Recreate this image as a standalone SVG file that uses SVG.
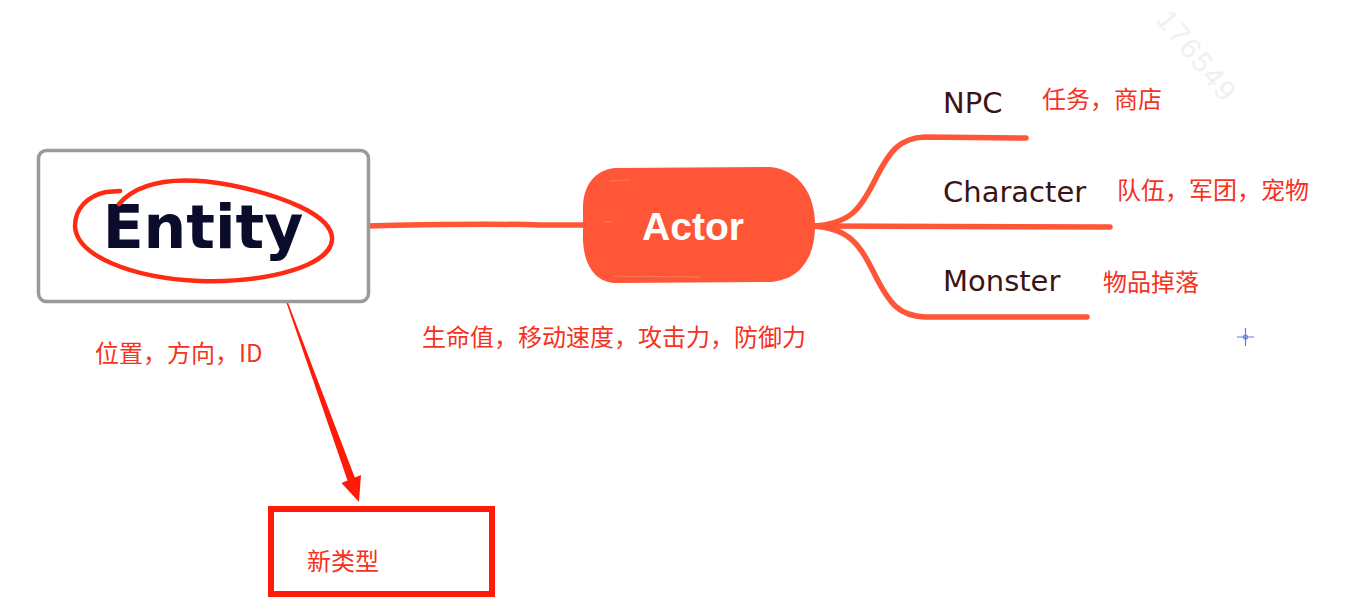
<svg xmlns="http://www.w3.org/2000/svg" width="1361" height="615" viewBox="0 0 1361 615">
<style>
.br{fill:none;stroke:#ff5638;stroke-width:5.5;stroke-linecap:round;stroke-linejoin:round}
.lbl{font-family:"Noto Sans CJK SC","Noto Sans",sans-serif;font-size:24px;fill:#f5321e}
.sub{font-family:"DejaVu Sans",sans-serif;font-size:29px;fill:#3b1414}
</style>
<rect width="1361" height="615" fill="#ffffff"/>
<text x="1155" y="20" transform="rotate(51 1155 20)" font-family="Liberation Sans, sans-serif" font-size="29" letter-spacing="2" fill="#f0f0f0">176549</text>
<g id="connectors">
<path class="br" d="M363 226 C420 225 480 223 540 225 L592 225"/>
<path class="br" d="M812 226 C850 224 860 210 875 180 C890 150 900 138 925 137 L1026 138"/>
<path class="br" d="M812 226 L1110 227"/>
<path class="br" d="M812 226 C850 228 860 245 875 275 C890 305 900 316 925 317 L1087 317"/>
<path id="arrow" fill="#ff1a0a" d="M285.5 300 L287 300 L354.8 477.5 L361 475 L359 502 L341.5 483 L347.5 480.5 Z"/>
</g>
<g id="node-entity">
<rect x="38.5" y="150.5" width="330" height="151" rx="8" fill="#ffffff" stroke="#9a9a9a" stroke-width="3.5"/>
<text x="203" y="248" text-anchor="middle" font-family="DejaVu Sans, sans-serif" font-weight="bold" font-size="60" letter-spacing="0" fill="#0b0b2c">Entity</text>
<path d="M120 191 L106 192 C88 196 75 208 75 226 C76 255 130 278 200 281 C270 283 330 265 332 240 C334 215 280 195 230 185 C180 176 140 180 119 204" fill="none" stroke="#ff2a12" stroke-width="4.5" stroke-linecap="round"/>
</g>
<g id="node-actor">
<path d="M615 168 L770 167 C800 170 815 195 815 225 C815 258 800 280 770 282 L615 283 C595 282 584 265 583 240 L583 205 C584 185 595 170 615 168 Z" fill="#ff5638"/>
<path d="M610 181 L630 180 M604 222 L612 222 M612 276 L700 277" stroke="#ff8a70" stroke-width="1.2" stroke-linecap="round" opacity="0.7"/>
<text x="693" y="240" text-anchor="middle" font-family="Liberation Sans, sans-serif" font-weight="bold" font-size="39" fill="#ffffff">Actor</text>
</g>
<g id="node-npc"><text class="sub" x="943" y="113">NPC</text></g>
<g id="node-character"><text class="sub" x="943" y="202">Character</text></g>
<g id="node-monster"><text class="sub" x="943" y="291">Monster</text></g>
<g id="labels">
<text class="lbl" x="1042" y="108">任务，商店</text>
<text class="lbl" x="1117" y="199">队伍，军团，宠物</text>
<text class="lbl" x="1103" y="291">物品掉落</text>
<text class="lbl" x="95" y="362">位置，方向，ID</text>
<text class="lbl" x="422" y="346">生命值，移动速度，攻击力，防御力</text>
</g>
<g id="node-newtype">
<rect x="271" y="509" width="221" height="85" fill="none" stroke="#ff1a0a" stroke-width="6"/>
<text class="lbl" x="307" y="570">新类型</text>
</g>
<g id="cursor" stroke="#5b7fe0" stroke-width="1.2" fill="none">
<path d="M1237 337 H1254 M1245.5 328 V346"/>
<circle cx="1245.5" cy="337" r="2"/>
</g>
</svg>
